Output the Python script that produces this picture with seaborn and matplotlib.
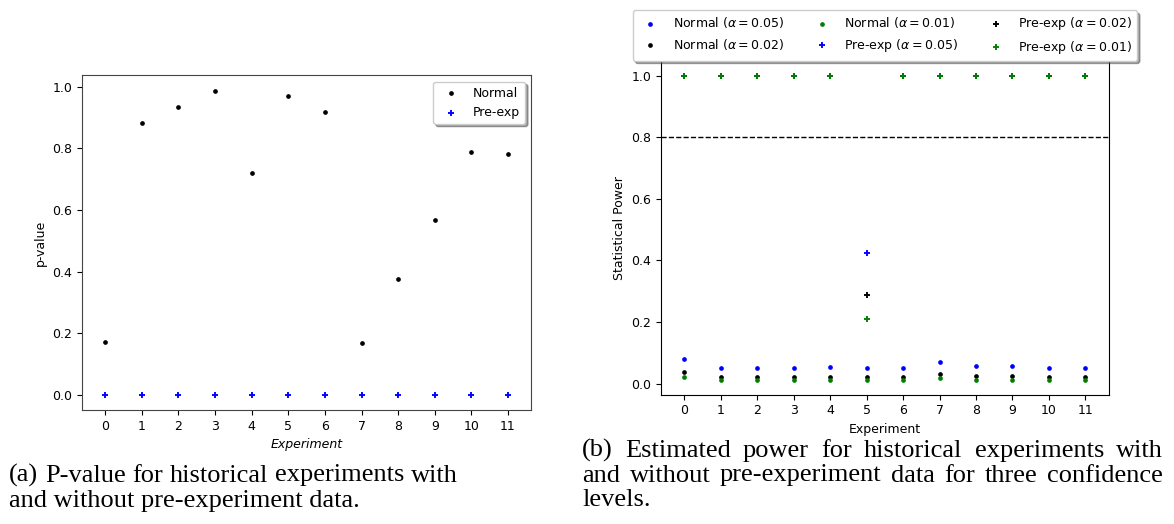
import matplotlib
matplotlib.use("Agg")
import matplotlib.pyplot as plt
import seaborn as sns
import pandas as pd

# ---- data -------------------------------------------------------------
experiments = [0, 1, 2, 3, 4, 5, 6, 7, 8, 9, 10, 11]

# p-values per historical experiment
pval_normal = [0.172, 0.884, 0.934, 0.988, 0.719, 0.970, 0.917, 0.167, 0.375, 0.568, 0.788, 0.782]
pval_preexp = [0.0, 0.0, 0.0, 0.0, 0.0, 0.0, 0.0, 0.0, 0.0, 0.0, 0.0, 0.0]

# estimated statistical power per experiment and significance level
power_normal_05 = [0.080, 0.050, 0.050, 0.050, 0.053, 0.050, 0.050, 0.070, 0.057, 0.057, 0.050, 0.050]
power_normal_02 = [0.038, 0.022, 0.022, 0.022, 0.022, 0.022, 0.022, 0.031, 0.025, 0.025, 0.022, 0.022]
power_normal_01 = [0.021, 0.013, 0.013, 0.013, 0.013, 0.013, 0.013, 0.018, 0.013, 0.013, 0.013, 0.013]
power_preexp_05 = [1.0, 1.0, 1.0, 1.0, 1.0, 0.423, 1.0, 1.0, 1.0, 1.0, 1.0, 1.0]
power_preexp_02 = [1.0, 1.0, 1.0, 1.0, 1.0, 0.288, 1.0, 1.0, 1.0, 1.0, 1.0, 1.0]
power_preexp_01 = [1.0, 1.0, 1.0, 1.0, 1.0, 0.209, 1.0, 1.0, 1.0, 1.0, 1.0, 1.0]
power_target = 0.8

caption_a = ["(a) P-value for historical experiments with",
             "and without pre-experiment data."]
caption_b = ["(b) Estimated power for historical experiments with",
             "and without pre-experiment data for three confidence",
             "levels."]

# ---- styling ----------------------------------------------------------
plt.rcParams["font.family"] = ["DejaVu Sans"]
plt.rcParams["font.size"] = 9
plt.rcParams["xtick.labelsize"] = 9
plt.rcParams["ytick.labelsize"] = 9
plt.rcParams["legend.fontsize"] = 9

W, H = 1174, 524
fig = plt.figure(figsize=(W / 100, H / 100), dpi=100)

ax1 = fig.add_axes([81.8 / W, (H - 410) / H, 449.6 / W, 334.7 / H])
ax2 = fig.add_axes([660.8 / W, (H - 394.7) / H, 448.0 / W, 334.0 / H])

DOT = dict(marker=".", s=16.4, linewidth=1.36)
PLUS = dict(marker="+", s=16.4, linewidth=1.36)


def scatter(ax, y, color, label, style):
    df = pd.DataFrame({"experiment": experiments, "value": y})
    sns.scatterplot(data=df, x="experiment", y="value", ax=ax, color=color,
                    edgecolor=color, label=label, **style)


# ---- (a) p-values ------------------------------------------------------
scatter(ax1, pval_normal, "black", "Normal", DOT)
scatter(ax1, pval_preexp, "blue", "Pre-exp", PLUS)
ax1.set_xticks(experiments)
ax1.set_xlim(-0.64, 11.64)
ax1.set_xlabel("Experiment", fontstyle="italic")
ax1.set_ylabel("p-value")
for sp in ax1.spines.values():
    sp.set_color("#444444")
ax1.legend(loc="upper right", shadow=True)

# ---- (b) statistical power --------------------------------------------
scatter(ax2, power_normal_05, "blue", r"Normal ($\alpha = 0.05$)", DOT)
scatter(ax2, power_normal_02, "black", r"Normal ($\alpha = 0.02$)", DOT)
scatter(ax2, power_normal_01, "green", r"Normal ($\alpha = 0.01$)", DOT)
scatter(ax2, power_preexp_05, "blue", r"Pre-exp ($\alpha = 0.05$)", PLUS)
scatter(ax2, power_preexp_02, "black", r"Pre-exp ($\alpha = 0.02$)", PLUS)
scatter(ax2, power_preexp_01, "green", r"Pre-exp ($\alpha = 0.01$)", PLUS)
ax2.axhline(power_target, color="black", linestyle="--", linewidth=1.0)
ax2.set_xticks(experiments)
ax2.set_xlim(-0.64, 11.64)
ax2.set_xlabel("Experiment")
ax2.set_ylabel("Statistical Power")
ax2.legend(loc="lower center", bbox_to_anchor=(0.5, 1.0), ncol=3,
           shadow=True, borderaxespad=0.0)

# ---- captions ----------------------------------------------------------
CAP = dict(family="Liberation Serif", fontsize=19, color="black", va="baseline")
renderer = fig.canvas.get_renderer()


def caption_line(text, x0, x1, ybase, justify):
    y = (H - ybase) / H
    if not justify:
        fig.text(x0 / W, y, text, **CAP)
        return
    words = text.split()
    arts = [fig.text(0, y, w, **CAP) for w in words]
    widths = [a.get_window_extent(renderer).width for a in arts]
    gap = (x1 - x0 - sum(widths)) / (len(words) - 1)
    x = x0
    for a, wd in zip(arts, widths):
        a.set_x(x / W)
        x += wd + gap


caption_line(caption_a[0], 9, 458, 481.5, True)
caption_line(caption_a[1], 9, 458, 506.5, False)
caption_line(caption_b[0], 582, 1163, 457, True)
caption_line(caption_b[1], 582, 1163, 481.5, True)
caption_line(caption_b[2], 582, 1163, 506, False)

fig.savefig("out.png", dpi=100)
